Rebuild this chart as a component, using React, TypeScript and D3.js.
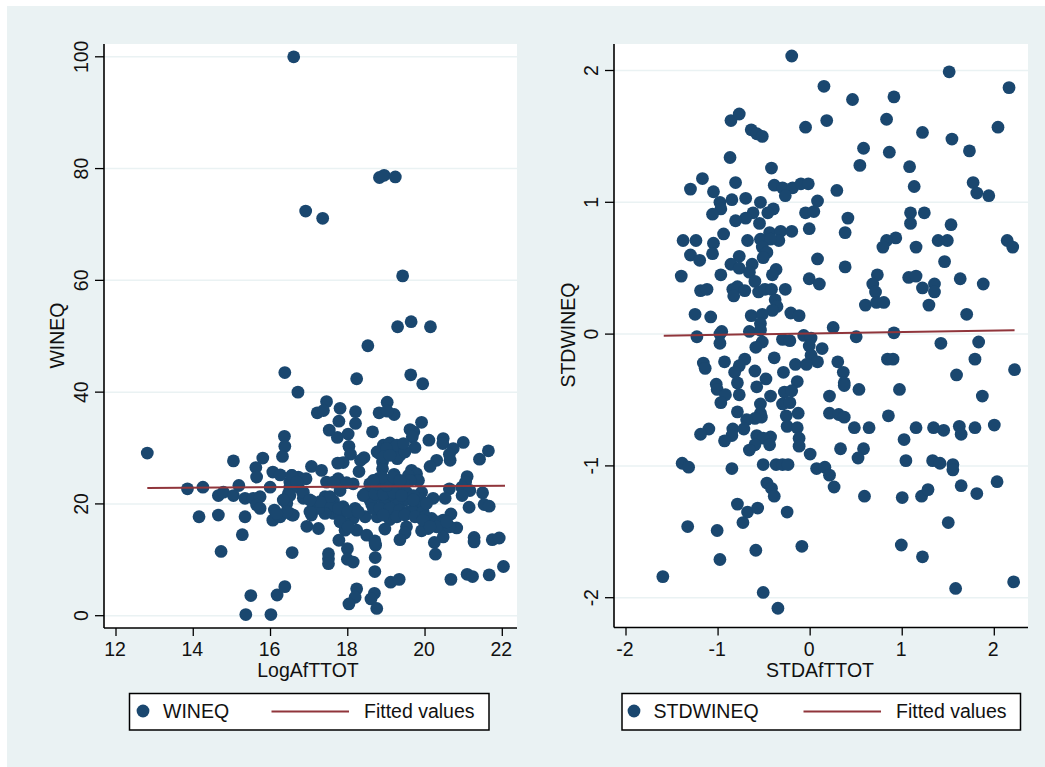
import * as d3 from 'd3';

// values, [x, y]
const wineqPoints: [number, number][] = [
  [16.6, 100], [18.82, 78.4], [18.94, 78.8], [19.23, 78.5], [16.91, 72.4], [17.35, 71.1], [19.42, 60.8],
  [19.64, 52.6], [19.29, 51.7], [20.14, 51.7], [18.52, 48.3], [16.37, 43.5], [18.23, 42.4], [19.63, 43.1],
  [19.94, 41.5], [16.71, 40.0],
  [17.45, 38.3], [17.21, 36.3], [17.37, 36.7], [17.8, 37.1], [18.2, 36.5], [19.02, 38.2], [18.81, 36.3],
  [19.2, 36.0], [19.02, 36.6], [17.77, 34.8], [18.2, 34.4], [19.91, 34.6], [17.52, 33.2], [17.73, 31.9],
  [18.01, 32.5], [18.64, 32.9], [19.61, 33.3], [19.71, 32.9], [19.67, 32.0], [20.1, 31.4], [20.47, 31.7],
  [20.46, 30.8], [20.99, 31.0], [20.73, 29.9], [21.64, 29.5], [21.41, 28.0], [19.74, 30.1], [18.03, 30.3],
  [18.07, 28.9], [18.42, 28.3], [18.33, 27.8], [17.88, 27.4], [17.74, 27.3], [18.29, 25.8], [18.92, 30.5],
  [18.76, 29.3], [19.09, 29.6], [19.31, 29.9], [19.35, 28.7], [19.28, 28.1], [19.09, 30.9], [19.27, 30.5],
  [18.9, 27.5], [18.9, 26.3], [20.3, 27.8], [20.13, 26.7], [20.65, 27.8], [20.63, 28.9], [21.09, 24.9],
  [21.05, 23.9], [17.06, 26.7], [17.32, 26.0], [16.55, 25.1], [16.72, 24.8], [16.92, 24.5], [19.65, 26.0],
  [19.78, 25.4], [19.57, 25.1], [19.2, 25.3], [19.83, 24.2], [19.61, 24.2], [19.44, 23.6], [18.79, 24.5],
  [19.01, 24.2], [19.25, 23.9], [18.57, 23.6], [17.45, 23.9], [17.75, 24.5], [17.63, 23.9], [18.14, 23.6],
  [17.97, 23.8], [17.8, 22.4], [20.63, 22.7], [20.95, 23.0], [21.16, 22.4], [20.96, 21.5], [21.49, 22.0],
  [16.5, 23.9], [16.83, 22.1], [16.85, 21.0], [17.09, 20.4], [17.41, 21.3], [17.63, 20.5], [17.88, 19.5],
  [18.19, 19.2], [18.45, 21.8], [18.62, 22.4], [18.83, 23.0], [19.09, 22.4], [19.31, 22.7], [19.52, 22.1],
  [19.91, 22.1], [18.57, 20.7], [18.79, 21.3], [19.01, 21.0], [19.22, 21.3], [19.48, 20.7], [19.87, 21.0],
  [20.21, 21.0], [20.52, 21.0], [18.62, 19.9], [18.96, 19.8], [19.27, 19.8], [19.91, 19.5], [19.74, 19.8],
  [21.14, 19.4], [21.53, 19.9], [21.66, 19.6], [19.01, 18.6], [19.18, 18.3], [19.44, 18.4], [18.76, 17.7],
  [20.67, 18.2], [19.09, 17.2], [19.83, 17.7], [20.17, 17.4], [20.47, 17.1], [20.34, 16.5], [16.94, 16.0],
  [17.24, 15.6], [16.5, 18.3], [16.59, 18.0], [17.06, 18.0], [17.37, 19.2], [17.63, 18.3], [17.8, 18.0],
  [18.14, 17.4], [18.45, 17.7], [17.93, 16.5], [17.93, 15.3], [18.23, 15.3], [18.49, 14.4], [18.7, 13.4],
  [18.72, 12.6], [18.96, 15.5], [19.52, 15.9], [19.48, 14.8], [19.35, 13.6], [20.08, 15.6], [19.91, 15.2],
  [20.82, 15.7], [20.47, 15.6], [20.47, 14.1], [20.24, 13.1], [17.77, 13.5], [17.99, 12.0], [21.27, 14.0],
  [21.27, 13.2], [21.74, 13.6], [21.92, 13.9],
  [12.81, 29.1], [13.85, 22.7], [14.25, 23.0], [14.15, 17.7], [14.65, 18.0], [14.72, 11.5], [14.65, 21.5],
  [14.78, 22.1], [15.04, 27.7], [15.18, 23.3], [15.04, 21.5], [15.34, 21.0], [15.34, 17.7], [15.27, 14.5],
  [15.55, 21.0], [15.73, 21.3], [15.64, 19.8], [15.73, 19.2], [15.62, 26.5], [15.64, 24.8], [15.8, 28.2],
  [15.99, 23.0], [16.06, 25.7], [16.25, 25.2], [16.36, 32.1], [16.37, 30.3], [16.31, 28.5], [16.55, 25.1],
  [16.1, 18.9], [16.06, 17.1], [16.25, 17.7], [16.42, 20.1], [16.46, 21.8], [16.5, 23.0], [16.56, 18.0],
  [16.56, 11.3], [15.49, 3.6], [16.17, 3.7], [16.37, 5.2], [15.36, 0.2], [16.01, 0.2],
  [17.5, 11.1], [17.5, 10.2], [17.5, 9.3], [17.99, 10.1], [18.14, 9.6], [18.71, 10.4], [18.7, 7.9],
  [18.71, 12.9], [20.27, 11.0], [18.23, 4.8], [18.19, 3.3], [18.03, 2.1], [18.69, 4.0], [18.6, 3.0],
  [18.75, 1.3], [19.11, 6.0], [19.33, 6.5], [20.67, 6.5], [21.09, 7.4], [21.23, 7.0], [21.66, 7.3],
  [22.03, 8.8],
  // inside the dense cluster, where single markers cannot be told apart
  [18.4, 21.5], [18.7, 21.8], [18.92, 21.8], [19.18, 22.1], [19.39, 21.5], [19.7, 21.5], [18.66, 19.2],
  [18.83, 19.2], [19.09, 19.2], [19.35, 18.9], [19.57, 18.6], [19.7, 18.6], [19.95, 18.6], [18.92, 18.0],
  [19.27, 17.7], [19.48, 18.0], [19.74, 17.7], [20.0, 17.7], [18.75, 23.6], [19.01, 23.3], [19.18, 24.8],
  [19.35, 24.2], [18.88, 24.8], [18.66, 24.2], [17.54, 19.8], [17.76, 19.2], [17.41, 18.3], [17.24, 19.2],
  [17.54, 21.3], [17.02, 18.6], [17.28, 20.4], [18.01, 18.6], [18.27, 18.6], [17.8, 16.8], [18.01, 15.9],
  [19.95, 17.1], [20.3, 16.8], [20.64, 15.9], [20.3, 15.9], [20.13, 15.9], [20.56, 16.8], [19.7, 20.7],
  [20.04, 20.1], [18.83, 29.0], [19.0, 29.9], [19.48, 29.3], [19.44, 30.8], [18.92, 28.4], [19.09, 28.7],
  [16.72, 23.0], [16.85, 22.1], [16.68, 23.9], [16.5, 21.5], [16.33, 20.7], [16.42, 18.6], [16.16, 18.3],
  [17.02, 20.7],
];

const stdPoints: [number, number][] = [
  [-0.2, 2.11], [0.15, 1.88], [0.46, 1.78], [0.91, 1.8], [1.51, 1.99], [2.16, 1.87], [-0.86, 1.62],
  [-0.77, 1.67], [-0.64, 1.55], [-0.58, 1.52], [-0.52, 1.5], [-0.05, 1.57], [0.18, 1.62], [0.83, 1.63],
  [1.22, 1.53], [1.54, 1.48], [2.04, 1.57], [-0.87, 1.34], [-0.42, 1.26], [0.58, 1.41], [0.86, 1.38],
  [0.54, 1.28], [1.08, 1.27], [1.73, 1.39], [-1.17, 1.18], [-1.3, 1.1], [-0.81, 1.15], [-1.05, 1.08],
  [-0.39, 1.13], [-0.3, 1.11], [-0.19, 1.11], [-0.1, 1.14], [-0.02, 1.14], [-0.27, 1.05], [0.29, 1.09],
  [1.13, 1.12], [1.77, 1.15], [1.81, 1.07], [1.94, 1.05], [-0.98, 1.0], [-0.85, 1.02], [-0.7, 1.03],
  [-0.54, 1.0], [0.08, 1.01], [-0.97, 0.95], [-1.06, 0.91], [-0.4, 0.95], [-0.46, 0.92], [-0.62, 0.92],
  [-0.7, 0.88], [-0.81, 0.86], [-0.55, 0.84], [-0.05, 0.92], [0.04, 0.93], [0.41, 0.88], [1.09, 0.92],
  [1.24, 0.92], [1.09, 0.84], [1.53, 0.83], [-1.38, 0.71], [-1.24, 0.71], [-0.94, 0.76], [-1.05, 0.69],
  [-0.68, 0.71], [-0.54, 0.72], [-0.44, 0.77], [-0.32, 0.78], [-0.2, 0.78], [-0.34, 0.71], [-0.43, 0.72],
  [-0.01, 0.8], [0.38, 0.77], [0.93, 0.73], [0.83, 0.71], [0.79, 0.66], [1.15, 0.66], [1.39, 0.71],
  [1.49, 0.71], [2.14, 0.71], [2.2, 0.66], [-1.3, 0.6], [-1.06, 0.61], [-1.2, 0.56], [-0.77, 0.59],
  [-0.52, 0.66], [-0.47, 0.62], [-0.51, 0.58], [0.08, 0.57], [1.46, 0.55], [-0.86, 0.53], [-0.77, 0.5],
  [-0.63, 0.53], [-0.66, 0.47], [-0.37, 0.49], [-0.41, 0.45], [0.38, 0.51], [-1.4, 0.44], [-0.97, 0.45],
  [-0.6, 0.4], [-0.01, 0.42], [0.1, 0.38], [0.73, 0.45], [0.68, 0.38], [0.71, 0.32], [1.07, 0.43],
  [1.15, 0.44], [1.63, 0.42], [1.88, 0.38], [-1.19, 0.33], [-1.12, 0.34], [-0.84, 0.34], [-0.79, 0.36],
  [-0.71, 0.33], [-0.83, 0.29], [-0.56, 0.32], [-0.49, 0.34], [-0.42, 0.34], [-0.27, 0.34], [1.22, 0.35],
  [1.35, 0.38], [1.35, 0.32], [-0.38, 0.26], [-0.36, 0.21], [-0.41, 0.18], [0.6, 0.22], [0.72, 0.24],
  [0.8, 0.24], [1.29, 0.22], [-1.25, 0.15], [-1.08, 0.13], [-0.64, 0.14], [-0.52, 0.15], [-0.21, 0.16],
  [-0.12, 0.14], [1.7, 0.15], [-0.54, 0.08], [-0.66, 0.02], [-0.54, 0.03], [-0.96, 0.02], [0.25, 0.05],
  [0.91, 0.01],
  [-1.23, -0.02], [-0.98, 0.0], [-0.98, -0.07], [-0.52, -0.06], [-0.3, -0.04], [-0.22, -0.05], [-0.07, -0.01],
  [0.01, -0.03], [0.5, -0.02], [1.42, -0.07], [1.83, -0.06], [-0.59, -0.1], [-0.01, -0.09], [0.13, -0.11],
  [0.01, -0.16], [-0.39, -0.18], [0.08, -0.21], [-0.71, -0.19], [-0.93, -0.21], [-1.16, -0.22], [-1.14, -0.26],
  [-0.77, -0.24], [-0.82, -0.29], [-0.16, -0.23], [-0.04, -0.23], [0.3, -0.21], [0.84, -0.19], [0.9, -0.19],
  [1.79, -0.19], [-0.6, -0.28], [-0.29, -0.29], [0.36, -0.29], [-0.48, -0.34], [2.22, -0.27], [1.59, -0.31],
  [-1.02, -0.38], [-0.79, -0.37], [-0.14, -0.36], [0.37, -0.37], [0.37, -0.39], [-0.58, -0.4], [-1.01, -0.42],
  [-0.92, -0.46], [-0.77, -0.46], [-0.43, -0.47], [-0.28, -0.44], [-0.2, -0.43], [0.53, -0.42], [0.97, -0.42],
  [1.87, -0.47], [0.21, -0.47], [-0.97, -0.52], [-0.3, -0.53], [-0.22, -0.52], [-0.54, -0.53], [-0.79, -0.59],
  [-0.13, -0.6], [0.21, -0.6], [0.31, -0.61], [0.37, -0.63], [-0.26, -0.62], [0.85, -0.62], [-0.54, -0.6],
  [-0.53, -0.63], [-0.6, -0.64], [-0.69, -0.65], [1.15, -0.71], [1.34, -0.71], [1.45, -0.73], [1.62, -0.7],
  [1.64, -0.76], [1.79, -0.71], [2.0, -0.69], [0.48, -0.71], [0.64, -0.71], [-1.1, -0.72], [-1.19, -0.76],
  [-0.84, -0.72], [-0.72, -0.72], [-0.85, -0.77], [-0.93, -0.81], [-0.25, -0.7], [-0.14, -0.71], [-0.12, -0.79],
  [-0.12, -0.85], [-0.58, -0.77], [-0.43, -0.78], [-0.51, -0.79], [-0.6, -0.84], [-0.66, -0.88], [-0.44, -0.84],
  [0.0, -0.91], [0.33, -0.87], [0.58, -0.87], [0.52, -0.94], [1.02, -0.8], [1.04, -0.96], [-1.39, -0.98],
  [-1.32, -1.01], [-0.85, -1.02], [-0.51, -0.99], [-0.37, -0.99], [-0.3, -0.99], [-0.24, -0.99], [0.07, -1.02],
  [0.16, -1.01], [0.21, -1.07], [0.26, -1.16], [1.33, -0.96], [1.41, -0.98], [1.55, -0.99], [1.55, -1.03],
  [-0.47, -1.13], [-0.42, -1.17], [-0.39, -1.23], [0.59, -1.23], [1.0, -1.24], [1.21, -1.23], [1.28, -1.18],
  [1.64, -1.15], [1.81, -1.21], [2.03, -1.12], [-0.79, -1.29], [-0.68, -1.35], [-0.57, -1.32], [-0.25, -1.35],
  [-0.73, -1.43], [1.5, -1.43], [-1.33, -1.46], [-1.01, -1.49], [-0.09, -1.61], [0.99, -1.6], [1.22, -1.69],
  [-0.59, -1.64], [-0.98, -1.71], [-1.6, -1.84], [-0.51, -1.96], [-0.35, -2.08], [1.58, -1.93], [2.21, -1.88],
];

const wineqFitX = [12.81, 22.07];
const wineqFitY = [22.86, 23.27];
const stdFitX = [-1.59, 2.22];
const stdFitY = [-0.012, 0.03];

const wineqXTicks = [12, 14, 16, 18, 20, 22];
const wineqYTicks = [0, 20, 40, 60, 80, 100];
const stdXTicks = [-2, -1, 0, 1, 2];
const stdYTicks = [-2, -1, 0, 1, 2];

const PANEL_BG = '#eaf2f3';
const NAVY = '#1a476f';
const MAROON = '#90353b';
const FONT = '"Liberation Sans", Arial, sans-serif';
const FONT_SIZE = 19.5;
const R = 6.4;

interface PanelProps {
  points: [number, number][];
  fitX: number[];
  fitY: number[];
  xTicks: number[];
  yTicks: number[];
  xScale: d3.ScaleLinear<number, number>;
  yScale: d3.ScaleLinear<number, number>;
  plot: { left: number; right: number; top: number; bottom: number };
  xTitle: string;
  xTitleX: number;
  yTitle: string;
  yTitleX: number;
  yTitleY: number;
  legend: { left: number; right: number; symbol: number; text: number; lineFrom: number; lineTo: number; fitted: number };
  seriesName: string;
}

function Panel(p: PanelProps) {
  const line = d3
    .line<number>()
    .x((d) => p.xScale(d))
    .y((_, i) => p.yScale(p.fitY[i]));
  const { left, right, top, bottom } = p.plot;
  return (
    <g fontFamily={FONT} fontSize={FONT_SIZE} fill="#111">
      <rect x={left} y={top} width={right - left} height={bottom - top} fill="#fff" />
      {p.yTicks.map((t) => (
        <line key={t} x1={left} x2={right} y1={p.yScale(t)} y2={p.yScale(t)} stroke={PANEL_BG} strokeWidth={1.5} />
      ))}
      {p.points.map((d, i) => (
        <circle key={i} cx={p.xScale(d[0])} cy={p.yScale(d[1])} r={R} fill={NAVY} />
      ))}
      <path d={line(p.fitX) ?? ''} fill="none" stroke={MAROON} strokeWidth={2} />
      <line x1={left} x2={left} y1={top} y2={bottom} stroke="#000" strokeWidth={1.6} />
      <line x1={left} x2={right} y1={bottom} y2={bottom} stroke="#000" strokeWidth={1.6} />
      {p.yTicks.map((t) => (
        <g key={t}>
          <line x1={left - 9} x2={left} y1={p.yScale(t)} y2={p.yScale(t)} stroke="#000" strokeWidth={1.3} />
          <text transform={`translate(${left - 16.5},${p.yScale(t)}) rotate(-90)`} textAnchor="middle">
            {t}
          </text>
        </g>
      ))}
      {p.xTicks.map((t) => (
        <g key={t}>
          <line x1={p.xScale(t)} x2={p.xScale(t)} y1={bottom} y2={bottom + 8} stroke="#000" strokeWidth={1.3} />
          <text x={p.xScale(t) - 1} y={656} textAnchor="middle">
            {t}
          </text>
        </g>
      ))}
      <text x={p.xTitleX} y={677} textAnchor="middle">
        {p.xTitle}
      </text>
      <text transform={`translate(${p.yTitleX},${p.yTitleY}) rotate(-90)`} textAnchor="middle">
        {p.yTitle}
      </text>
      <rect x={p.legend.left} y={693.5} width={p.legend.right - p.legend.left} height={36.5} fill="#fff" stroke="#000" strokeWidth={1.5} />
      <circle cx={p.legend.symbol} cy={711} r={R} fill={NAVY} />
      <text x={p.legend.text} y={718}>
        {p.seriesName}
      </text>
      <line x1={p.legend.lineFrom} x2={p.legend.lineTo} y1={711.5} y2={711.5} stroke={MAROON} strokeWidth={2} />
      <text x={p.legend.fitted} y={718}>
        Fitted values
      </text>
    </g>
  );
}

export default function App() {
  const leftX = d3.scaleLinear().domain([12, 22]).range([116, 502.3]);
  const leftY = d3.scaleLinear().domain([0, 100]).range([615.7, 56.8]);
  const rightX = d3.scaleLinear().domain([-2, 2]).range([626, 994.3]);
  const rightY = d3.scaleLinear().domain([-2, 2]).range([597.7, 70.5]);
  return (
    <svg width={1045} height={767} style={{ position: 'absolute', left: 0, top: 0, display: 'block' }}>
      <rect x={0} y={0} width={1045} height={767} fill="#fff" />
      <rect x={7} y={6} width={1038} height={761} fill={PANEL_BG} />
      <Panel
        points={wineqPoints}
        fitX={wineqFitX}
        fitY={wineqFitY}
        xTicks={wineqXTicks}
        yTicks={wineqYTicks}
        xScale={leftX}
        yScale={leftY}
        plot={{ left: 104, right: 517, top: 44, bottom: 628 }}
        xTitle="LogAfTTOT"
        xTitleX={308}
        yTitle="WINEQ"
        yTitleX={64}
        yTitleY={335.5}
        seriesName="WINEQ"
        legend={{ left: 129.5, right: 489, symbol: 143, text: 163, lineFrom: 271.5, lineTo: 349, fitted: 364 }}
      />
      <Panel
        points={stdPoints}
        fitX={stdFitX}
        fitY={stdFitY}
        xTicks={stdXTicks}
        yTicks={stdYTicks}
        xScale={rightX}
        yScale={rightY}
        plot={{ left: 614, right: 1028, top: 44, bottom: 627.5 }}
        xTitle="STDAfTTOT"
        xTitleX={820}
        yTitle="STDWINEQ"
        yTitleX={575}
        yTitleY={335}
        seriesName="STDWINEQ"
        legend={{ left: 622, right: 1020.5, symbol: 634, text: 653.5, lineFrom: 803.5, lineTo: 881, fitted: 896 }}
      />
    </svg>
  );
}
